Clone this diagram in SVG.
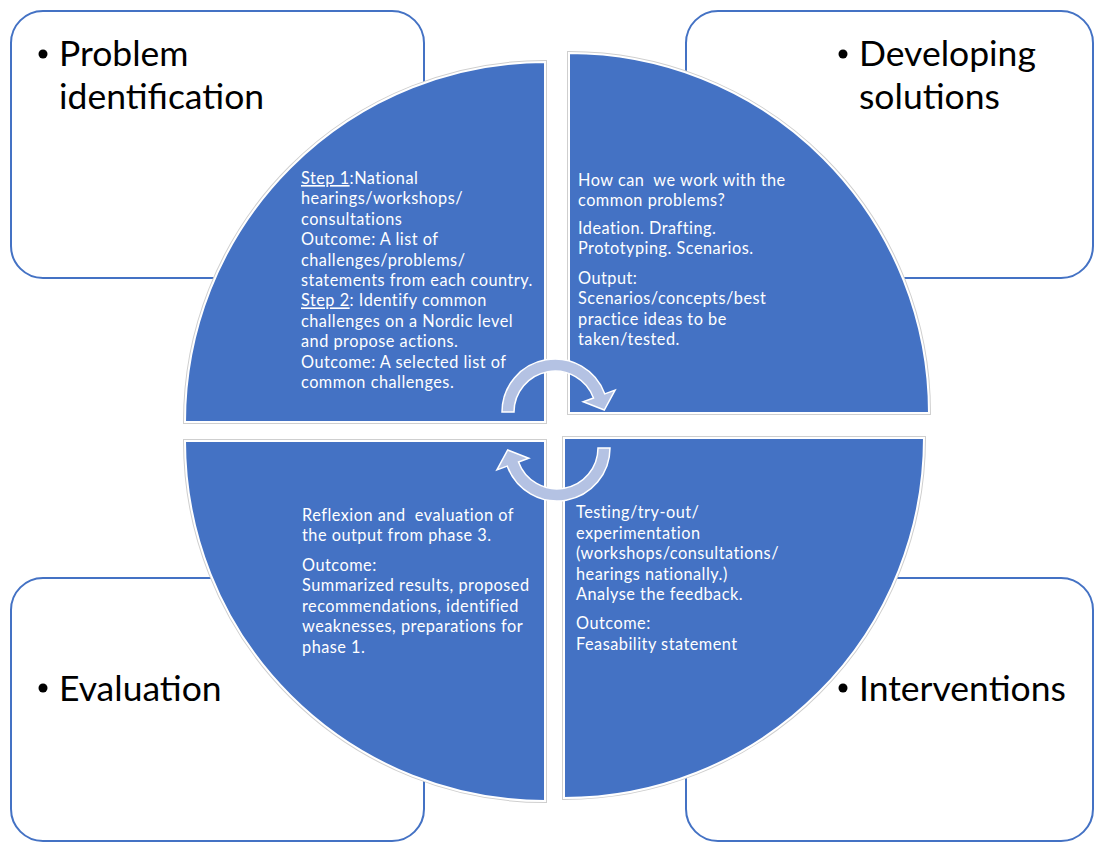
<svg xmlns="http://www.w3.org/2000/svg" width="1095" height="843" viewBox="0 0 1095 843">
  <style>
    .box { fill: #ffffff; stroke: #4472C4; stroke-width: 2; }
    .pie-o { fill: none; stroke: #cfcfcf; stroke-width: 4; }
    .pie { fill: #4472C4; stroke: #ffffff; stroke-width: 2; }
    .arrow { fill: #B4C2E3; stroke: #ffffff; stroke-width: 1.5; stroke-linejoin: miter; }
    .head { font-family: Lato, "Liberation Sans", sans-serif; font-size: 35.5px; fill: #000000; }
    .body { font-family: Lato, "Liberation Sans", sans-serif; font-size: 16.3px; letter-spacing: 0.5px; fill: #ffffff; }
    .bullet { fill: #000000; }
    .u { text-decoration: underline; }
    .pre { white-space: pre; }
  </style>
  <rect width="1095" height="843" fill="#ffffff"/>

  <g id="box-problem">
    <rect class="box" x="11" y="11" width="413" height="267" rx="32" ry="32"/>
    <circle class="bullet" cx="43" cy="54" r="4.5"/>
    <text class="head" x="59" y="66">Problem</text>
    <text class="head" x="59" y="109">identification</text>
  </g>
  <g id="box-developing">
    <rect class="box" x="686" y="11" width="407" height="267" rx="32" ry="32"/>
    <circle class="bullet" cx="843" cy="54" r="4.5"/>
    <text class="head" x="859" y="66">Developing</text>
    <text class="head" x="859" y="109">solutions</text>
  </g>
  <g id="box-evaluation">
    <rect class="box" x="11" y="578" width="413" height="263" rx="32" ry="32"/>
    <circle class="bullet" cx="43" cy="688" r="4.5"/>
    <text class="head" x="59" y="701">Evaluation</text>
  </g>
  <g id="box-interventions">
    <rect class="box" x="686" y="578" width="407" height="263" rx="32" ry="32"/>
    <circle class="bullet" cx="843" cy="688" r="4.5"/>
    <text class="head" x="859" y="701">Interventions</text>
  </g>

  <g id="pie-problem">
    <path class="pie-o" d="M545,422 L185,422 A360,360 0 0 1 545,62 Z"/>
    <path class="pie" d="M545,422 L185,422 A360,360 0 0 1 545,62 Z"/>
    <text class="body" x="301">
      <tspan x="301" y="184"><tspan class="u">Step 1</tspan>:National</tspan>
      <tspan x="301" y="204.4">hearings/workshops/</tspan>
      <tspan x="301" y="224.8">consultations</tspan>
      <tspan x="301" y="245.2">Outcome: A list of</tspan>
      <tspan x="301" y="265.6">challenges/problems/</tspan>
      <tspan x="301" y="286">statements from each country.</tspan>
      <tspan x="301" y="306.4"><tspan class="u">Step 2</tspan>: Identify common</tspan>
      <tspan x="301" y="326.8">challenges on a Nordic level</tspan>
      <tspan x="301" y="347.2">and propose actions.</tspan>
      <tspan x="301" y="367.6">Outcome: A selected list of</tspan>
      <tspan x="301" y="388">common challenges.</tspan>
    </text>
  </g>
  <g id="pie-developing">
    <path class="pie-o" d="M569,413 L569,53 A360,360 0 0 1 929,413 Z"/>
    <path class="pie" d="M569,413 L569,53 A360,360 0 0 1 929,413 Z"/>
    <text class="body">
      <tspan class="pre" x="578" y="186">How can  we work with the</tspan>
      <tspan x="578" y="206">common problems?</tspan>
      <tspan x="578" y="234">Ideation. Drafting.</tspan>
      <tspan x="578" y="254">Prototyping. Scenarios.</tspan>
      <tspan x="578" y="284">Output:</tspan>
      <tspan x="578" y="304">Scenarios/concepts/best</tspan>
      <tspan x="578" y="325">practice ideas to be</tspan>
      <tspan x="578" y="345">taken/tested.</tspan>
    </text>
  </g>
  <g id="pie-evaluation">
    <path class="pie-o" d="M545,441 L545,801 A360,360 0 0 1 185,441 Z"/>
    <path class="pie" d="M545,441 L545,801 A360,360 0 0 1 185,441 Z"/>
    <text class="body">
      <tspan class="pre" x="302" y="521">Reflexion and  evaluation of</tspan>
      <tspan x="302" y="541">the output from phase 3.</tspan>
      <tspan x="302" y="571">Outcome:</tspan>
      <tspan x="302" y="591">Summarized results, proposed</tspan>
      <tspan x="302" y="612">recommendations, identified</tspan>
      <tspan x="302" y="632">weaknesses, preparations for</tspan>
      <tspan x="302" y="653">phase 1.</tspan>
    </text>
  </g>
  <g id="pie-interventions">
    <path class="pie-o" d="M564,438 L924,438 A360,360 0 0 1 564,798 Z"/>
    <path class="pie" d="M564,438 L924,438 A360,360 0 0 1 564,798 Z"/>
    <text class="body">
      <tspan x="576" y="518">Testing/try-out/</tspan>
      <tspan x="576" y="539">experimentation</tspan>
      <tspan x="576" y="559">(workshops/consultations/</tspan>
      <tspan x="576" y="580">hearings nationally.)</tspan>
      <tspan x="576" y="600">Analyse the feedback.</tspan>
      <tspan x="576" y="629">Outcome:</tspan>
      <tspan x="576" y="650">Feasability statement</tspan>
    </text>
  </g>

  <g id="connectors">
    <path class="arrow" d="M502,412 A53,53 0 0 1 604.8,393.9 L615.1,390.1 L604.3,410 L583.2,401.7 L593.5,398 A41,41 0 0 0 514,412 Z"/>
    <path class="arrow" d="M610,448 A53,53 0 0 1 507.2,466.1 L496.9,469.9 L507.7,450 L528.8,458.3 L518.5,462 A41,41 0 0 0 598,448 Z"/>
  </g>
</svg>
